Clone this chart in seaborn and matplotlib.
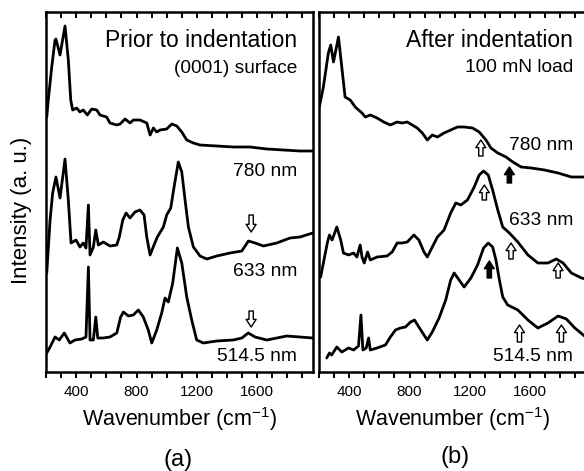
import matplotlib
matplotlib.use("Agg")
import matplotlib.pyplot as plt
import seaborn as sns
import numpy as np

# ---------------- data (intensities in arbitrary offset units) -------------
# Panel (a): prior to indentation
a780_w = [205, 215, 238, 260, 266, 293, 326, 348, 364, 377, 403, 425, 447, 474, 503, 536, 558, 602, 624,
          669, 691, 724, 757, 779, 823, 868, 890, 912, 934, 956, 1000, 1034, 1067, 1100, 1133, 1177, 1221,
          1332, 1442, 1553, 1664, 1774, 1884, 1968]
a780_i = [255, 272, 305, 332, 333, 317, 346, 312, 272, 262, 264, 260, 262, 257, 263, 262, 257, 255, 249,
          247, 248, 253, 249, 252, 252, 249, 237, 244, 240, 242, 243, 248, 246, 240, 232, 229, 227,
          226, 225, 225, 223, 222, 221, 221]

a633_w = [205, 227, 244, 266, 293, 326, 348, 366, 399, 425, 447, 465, 481, 492, 514, 530, 547, 580, 624,
          669, 686, 709, 731, 757, 790, 823, 850, 868, 890, 916, 938, 978, 1000, 1027, 1049, 1077, 1100,
          1122, 1144, 1177, 1221, 1266, 1332, 1420, 1498, 1542, 1586, 1641, 1730, 1818, 1884, 1968]
a633_i = [99, 152, 179, 195, 174, 213, 172, 129, 132, 125, 129, 124, 167, 117, 125, 142, 127, 130, 126,
          127, 135, 152, 159, 154, 160, 162, 157, 135, 117, 127, 135, 145, 157, 164, 185, 210, 200,
          172, 145, 125, 116, 113, 116, 119, 121, 131, 129, 126, 129, 134, 135, 139]

a514_w = [205, 227, 260, 288, 321, 359, 392, 437, 465, 481, 492, 514, 530, 543, 580, 624, 669, 695, 713,
          746, 779, 812, 845, 878, 901, 934, 967, 989, 1011, 1040, 1071, 1100, 1133, 1166, 1199, 1243,
          1332, 1442, 1498, 1541, 1586, 1664, 1796, 1884, 1968]
a514_i = [19, 25, 35, 32, 39, 29, 32, 33, 35, 105, 32, 32, 55, 34, 34, 35, 39, 55, 60,
          56, 57, 62, 55, 42, 29, 42, 59, 74, 70, 89, 124, 109, 75, 52, 32, 29,
          31, 32, 34, 39, 35, 32, 36, 35, 34]

# Panel (b): after indentation
b780_w = [202, 229, 262, 278, 296, 329, 351, 373, 407, 440, 485, 507, 540, 585, 629, 673, 718, 751, 785,
          818, 851, 885, 918, 951, 985, 1029, 1073, 1118, 1162, 1218, 1262, 1307, 1340, 1385, 1440, 1485,
          1540, 1607, 1695, 1785, 1873, 1968]
b780_i = [265, 285, 319, 327, 310, 335, 305, 275, 272, 265, 259, 255, 257, 254, 250, 247, 250, 249, 250,
          247, 244, 239, 232, 237, 235, 239, 242, 245, 245, 244, 240, 232, 224, 219, 215, 210,
          205, 204, 202, 199, 195, 195]

b633_w = [211, 229, 255, 269, 287, 318, 344, 362, 396, 429, 451, 473, 485, 500, 522, 540, 585, 651, 685,
          718, 751, 785, 829, 862, 896, 918, 951, 985, 1029, 1073, 1107, 1140, 1184, 1229, 1262, 1291,
          1322, 1351, 1385, 1418, 1462, 1518, 1585, 1651, 1718, 1773, 1818, 1873, 1940, 1968]
b633_i = [95, 109, 129, 137, 132, 145, 132, 119, 117, 119, 115, 127, 115, 109, 120, 112, 115, 116, 120,
          129, 129, 130, 137, 132, 120, 115, 125, 135, 142, 159, 169, 167, 172, 185, 197, 201,
          197, 182, 162, 145, 139, 130, 117, 109, 109, 113, 109, 99, 94, 93]

b514_w = [251, 269, 284, 318, 351, 396, 429, 462, 478, 491, 513, 529, 540, 585, 640, 673, 707, 740, 773,
          807, 833, 862, 896, 918, 951, 996, 1040, 1073, 1096, 1129, 1162, 1207, 1251, 1291, 1322, 1351,
          1373, 1396, 1418, 1451, 1518, 1585, 1651, 1718, 1785, 1840, 1896, 1968]
b514_i = [14, 19, 17, 25, 20, 24, 22, 26, 57, 22, 24, 34, 22, 24, 27, 35, 42, 44, 45,
          50, 52, 45, 37, 32, 40, 54, 72, 92, 99, 92, 85, 94, 107, 124, 129, 125,
          112, 92, 75, 67, 62, 52, 44, 49, 56, 53, 44, 35]

# arrows: (wavenumber, head intensity, tail intensity, filled)
a_arrows = [(1560, 140, 157, False), (1560, 45, 61, False)]
b_arrows = [(1273, 232, 216, False), (1462, 205, 189, True),
            (1296, 187, 172, False), (1473, 129, 113, False), (1785, 109, 94, False),
            (1329, 111, 94, True), (1529, 47, 30, False), (1807, 47, 30, False)]

x_major = [400, 800, 1200, 1600]

# ---------------- figure -------------
sns.set_theme(style="white")
plt.rcParams['font.family'] = ['Liberation Sans', 'DejaVu Sans']
plt.rcParams['mathtext.default'] = 'regular'
plt.rcParams['text.color'] = 'black'
plt.rcParams['axes.labelcolor'] = 'black'
plt.rcParams['xtick.color'] = 'black'
plt.rcParams['ytick.color'] = 'black'

W, H = 584, 471
fig = plt.figure(figsize=(W / 100, H / 100), dpi=100)
axw = 267 / W
axh = 360 / H
ax1 = fig.add_axes([46 / W, (H - 372) / H, axw, axh])
ax2 = fig.add_axes([319 / W, (H - 372) / H, axw, axh])

LW = 2.0
for ax, curves in ((ax1, [(a780_w, a780_i), (a633_w, a633_i), (a514_w, a514_i)]),
                   (ax2, [(b780_w, b780_i), (b633_w, b633_i), (b514_w, b514_i)])):
    for w, i in curves:
        sns.lineplot(x=w, y=i, ax=ax, color='black', lw=LW, sort=False, estimator=None)
    ax.set_xlim(200, 1970)
    ax.set_ylim(0, 360)
    ax.set_yticks([])
    ax.set_ylabel('')
    ax.set_xticks(x_major)
    ax.set_xticks(np.arange(200, 2000, 100), minor=True)
    ax.tick_params(axis='x', which='both', direction='out', length=4.5, width=1.4,
                   bottom=True, top=False, colors='black', labelcolor='black', labelsize=11, pad=4.5)
    for s in ax.spines.values():
        s.set_color('black')
        s.set_linewidth(1.8)
    sec = ax.secondary_xaxis('top')
    sec.set_xticks(x_major)
    sec.set_xticks(np.arange(200, 2000, 100), minor=True)
    sec.tick_params(axis='x', which='both', direction='in', length=4.5, width=1.4,
                    labeltop=False, colors='black')
    sec.spines['top'].set_visible(False)
    ax.set_xlabel('Wavenumber (cm$^{-1}$)', fontsize=15.5, labelpad=5, color='black')

def draw_arrows(ax, arrows):
    for w, head, tail, filled in arrows:
        ax.annotate('', xy=(w, head), xytext=(w, tail),
                    arrowprops=dict(arrowstyle='simple,head_length=0.5,head_width=0.65,tail_width=0.28',
                                    fc='black' if filled else 'white', ec='black', lw=1.0,
                                    shrinkA=0, shrinkB=0, mutation_scale=11))

draw_arrows(ax1, a_arrows)
draw_arrows(ax2, b_arrows)

# panel texts
ax1.text(0.94, 0.922, 'Prior to indentation', transform=ax1.transAxes, ha='right', va='center', fontsize=16.5)
ax1.text(0.94, 0.844, '(0001) surface', transform=ax1.transAxes, ha='right', va='center', fontsize=13.8)
ax1.text(0.94, 0.556, '780 nm', transform=ax1.transAxes, ha='right', va='center', fontsize=13.8)
ax1.text(0.94, 0.278, '633 nm', transform=ax1.transAxes, ha='right', va='center', fontsize=13.8)
ax1.text(0.94, 0.044, '514.5 nm', transform=ax1.transAxes, ha='right', va='center', fontsize=13.8)

ax2.text(0.951, 0.922, 'After indentation', transform=ax2.transAxes, ha='right', va='center', fontsize=16.5)
ax2.text(0.951, 0.847, '100 mN load', transform=ax2.transAxes, ha='right', va='center', fontsize=13.8)
ax2.text(0.951, 0.628, '780 nm', transform=ax2.transAxes, ha='right', va='center', fontsize=13.8)
ax2.text(0.951, 0.422, '633 nm', transform=ax2.transAxes, ha='right', va='center', fontsize=13.8)
ax2.text(0.951, 0.042, '514.5 nm', transform=ax2.transAxes, ha='right', va='center', fontsize=13.8)

fig.text(22 / W, 1 - 210 / H, 'Intensity (a. u.)', rotation=90, ha='center', va='center', fontsize=16)
fig.text(178 / W, 1 - 460 / H, '(a)', ha='center', va='center', fontsize=17)
fig.text(455 / W, 1 - 457 / H, '(b)', ha='center', va='center', fontsize=17)

fig.savefig('out.png', dpi=100, facecolor='white')
